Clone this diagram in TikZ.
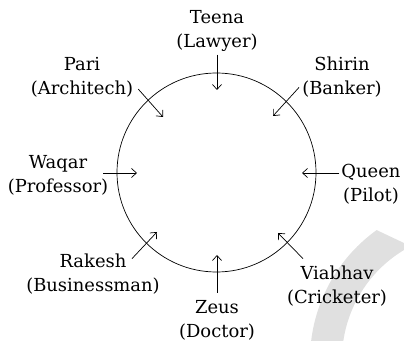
\documentclass[tikz,border=0pt]{standalone}
\usepackage{fontspec}
\setmainfont{DejaVu Serif}
\usetikzlibrary{arrows.meta}
\begin{document}
\begin{tikzpicture}[x=1bp,y=1bp,
    person/.style={align=center,inner sep=1pt,font=\fontsize{18}{24}\selectfont},
    arr/.style={-{Straight Barb[length=5bp,width=9bp]},line width=0.7bp}]
  \useasboundingbox (0,0) rectangle (404,341);
  % grey band in the corner
  \fill[black!12] (470,-19) ++(173.2:160) arc[start angle=173.2,end angle=125.7,radius=160]
    -- (404,98) -- (404,91) arc[start angle=121,end angle=171.5,radius=128] -- cycle;
  % the table
  \draw[line width=0.7bp] (216.5,168.5) circle (99.5);
  % people round it
  \node[person] (teena) at (217,310) {Teena\\(Lawyer)};
  \node[person] (pari) at (82,264) {Pari\\(Architech)};
  \node[person] (shirin) at (342,264) {Shirin\\(Banker)};
  \node[person] (waqar) at (58,166) {Waqar\\(Professor)};
  \node[person] (queen) at (371,157) {Queen\\(Pilot)};
  \node[person] (rakesh) at (93,67) {Rakesh\\(Businessman)};
  \node[person] (zeus) at (217,21) {Zeus\\(Doctor)};
  \node[person] (viabhav) at (337,55) {Viabhav\\(Cricketer)};
  % where each one faces
  \coordinate (teena-tip) at (217,251);
  \coordinate (pari-tip) at (163,224);
  \coordinate (shirin-tip) at (273,225);
  \coordinate (waqar-tip) at (137,168);
  \coordinate (queen-tip) at (302,168);
  \coordinate (rakesh-tip) at (157,109);
  \coordinate (zeus-tip) at (217,86);
  \coordinate (viabhav-tip) at (278,108);
  \draw[arr] ([yshift=-2]teena.south) -- (teena-tip);
  \draw[arr] ([shift={(4,9)}]pari.south east) -- (pari-tip);
  \draw[arr] ([shift={(-2,11)}]shirin.south west) -- (shirin-tip);
  \draw[arr] ([shift={(-6,2)}]waqar.east) -- (waqar-tip);
  \draw[arr] ([shift={(-1,11)}]queen.west) -- (queen-tip);
  \draw[arr] ([shift={(39,-6)}]rakesh.north) -- (rakesh-tip);
  \draw[arr] ([shift={(0,6)}]zeus.north) -- (zeus-tip);
  \draw[arr] ([shift={(-34,6)}]viabhav.north) -- (viabhav-tip);
\end{tikzpicture}
\end{document}
